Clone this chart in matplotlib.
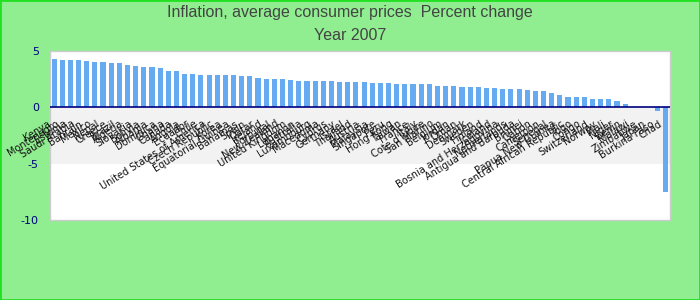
import matplotlib
matplotlib.use("Agg")
import matplotlib.pyplot as plt
from matplotlib.patches import Rectangle

title_line1 = "Inflation, average consumer prices  Percent change"
title_line2 = "Year 2007"

countries = [
    "Kenya", "Montenegro", "Estonia", "Saudi Arabia", "Bahrain", "Mexico",
    "Nepal", "Greece", "Brazil", "Algeria", "Slovakia", "Bolivia", "Albania",
    "Dominica", "Ghana", "Canada", "Angola", "Ecuador", "Chile",
    "United States of America", "Czech Republic", "Korea", "Equatorial Guinea",
    "Bahamas", "Spain", "Qatar", "Ireland", "Portugal", "New Zealand",
    "United Kingdom", "Lebanon", "Australia", "Luxembourg", "Macedonia",
    "Cyprus", "Germany", "Israel", "Thailand", "Austria", "Malaysia",
    "Singapore", "Peru", "Hong Kong", "Taiwan", "France", "Italy",
    "Cote d'Ivoire", "San Marino", "Belgium", "Jordan", "Oman", "Denmark",
    "Sweden", "Finland", "Iceland", "Bosnia and Herzegovina", "Netherlands",
    "Antigua and Barbuda", "Brunei", "Gabon", "Cameroon", "Senegal",
    "Papua New Guinea", "Central African Republic", "Togo", "Congo",
    "Switzerland", "Norway", "Mali", "Niger", "Benin", "Malawi",
    "Zimbabwe", "Japan", "Burkina Faso", "Chad",
]

values = [
    4.3, 4.2, 4.2, 4.2, 4.1, 4.0, 4.0, 3.9, 3.9, 3.8,
    3.7, 3.6, 3.6, 3.5, 3.2, 3.2, 2.95, 2.95, 2.86, 2.86,
    2.86, 2.86, 2.86, 2.78, 2.78, 2.6, 2.51, 2.51, 2.51, 2.42,
    2.33, 2.33, 2.33, 2.33, 2.33, 2.24, 2.24, 2.24, 2.24, 2.15,
    2.15, 2.15, 2.07, 2.07, 2.07, 2.07, 2.07, 1.89, 1.89, 1.89,
    1.8, 1.8, 1.8, 1.71, 1.71, 1.62, 1.62, 1.62, 1.53, 1.45,
    1.45, 1.27, 1.09, 0.91, 0.91, 0.91, 0.74, 0.74, 0.74, 0.56,
    0.29, 0.0, 0.0, 0.0, -0.3, -7.5,
]

yticks = [5, 0, -5, -10]

fig = plt.figure(figsize=(7, 3), dpi=100, facecolor="#90EE90")
fig.patches.append(Rectangle((0, 0), 1, 1, transform=fig.transFigure,
                             fill=False, edgecolor="#22E022", linewidth=2))
ax = fig.add_axes([50 / 700, 1 - 220 / 300, 620 / 700, 169 / 300])
ax.set_facecolor("white")

x = list(range(len(values)))
ax.axhspan(-5, 0, facecolor="#f2f2f2", zorder=0, linewidth=0)
ax.bar(x, values, width=0.62, color="#66abf2", zorder=2)
ax.axhline(0, color="#000080", linewidth=1.2, zorder=3)

for i, name in enumerate(countries):
    ax.text(i - 0.9, -1.0, name, rotation=32, rotation_mode="anchor",
            ha="right", va="top", fontsize=7, color="#111111", zorder=4,
            family="DejaVu Sans")

ax.set_xlim(-0.5, len(values) - 0.5)
ax.set_ylim(-10, 5)
ax.set_xticks([])
ax.set_yticks(yticks)
ax.set_yticklabels([str(t) for t in yticks])
ax.tick_params(axis="y", length=0, pad=8, labelcolor="#000080", labelsize=8)
for s in ax.spines.values():
    s.set_color("#cccccc")
    s.set_linewidth(1)

fig.text(0.5, 1 - 13 / 300, title_line1, ha="center", va="center",
         fontsize=11.5, color="#444444", family="Liberation Sans")
fig.text(0.5, 1 - 36 / 300, title_line2, ha="center", va="center",
         fontsize=11.5, color="#444444", family="Liberation Sans")

fig.savefig("out.png", dpi=100, facecolor=fig.get_facecolor())
